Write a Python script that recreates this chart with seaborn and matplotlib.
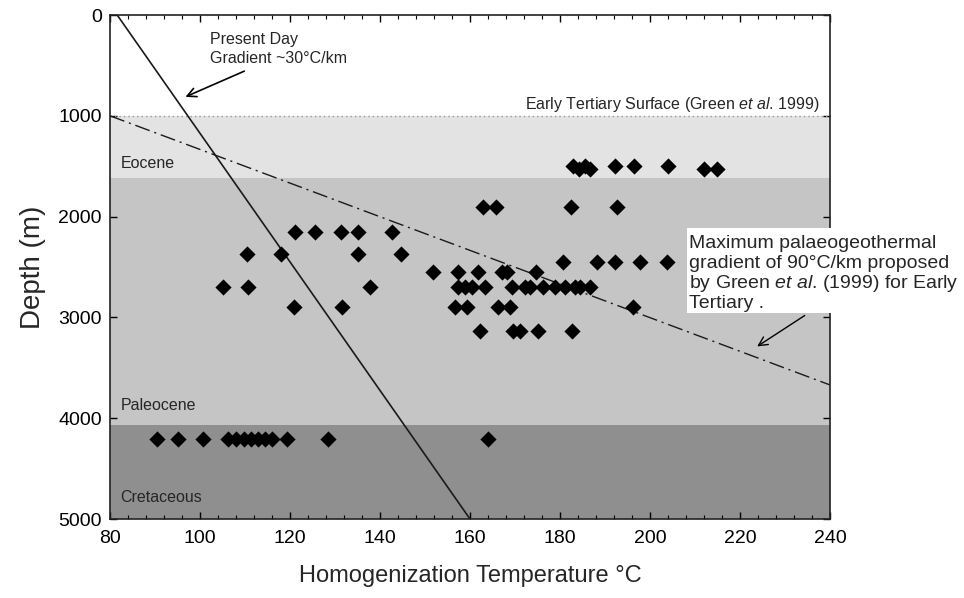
import matplotlib
matplotlib.use("Agg")
import matplotlib.pyplot as plt
from matplotlib.patches import Rectangle
from matplotlib.ticker import MultipleLocator
import seaborn as sns
import pandas as pd

# Fluid-inclusion homogenization temperatures (deg C) grouped by sample depth (m)
depth_1500 = [182.9, 185.5, 192.2, 196.4, 204.0]
depth_1530 = [184.2, 186.6, 212.0, 214.9]
depth_1900 = [162.9, 165.8, 182.4, 192.7]
depth_2150 = [121.1, 125.6, 131.3, 135.1, 142.7]
depth_2370 = [110.4, 118.0, 135.1, 144.7]
depth_2450 = [180.7, 188.2, 192.2, 197.8, 203.8]
depth_2550 = [151.8, 157.3, 161.8, 167.1, 168.2, 174.7]
depth_2700 = [105.1, 110.7, 137.8, 157.3, 158.9, 160.4, 163.3, 169.3, 172.2,
              173.3, 176.2, 178.9, 181.1, 183.3, 184.4, 186.7]
depth_2900 = [120.9, 131.6, 156.7, 159.3, 166.2, 168.9, 196.2]
depth_3130 = [162.2, 169.6, 171.1, 175.1, 182.7]
depth_4210 = [90.4, 95.1, 100.7, 106.2, 108.0, 109.8, 111.3, 112.9, 114.4,
              116.0, 119.3, 128.4, 164.0]

samples = {
    1500: depth_1500, 1530: depth_1530, 1900: depth_1900, 2150: depth_2150,
    2370: depth_2370, 2450: depth_2450, 2550: depth_2550, 2700: depth_2700,
    2900: depth_2900, 3130: depth_3130, 4210: depth_4210,
}

# Stratigraphic intervals (top, base, label)
strata_names = ["Eocene", "Paleocene", "Cretaceous"]
strata_tops = [1000, 1620, 4065]
strata_bases = [1620, 4065, 5000]
strata_colors = ["#e3e3e3", "#c5c5c5", "#8f8f8f"]
strata_label_depths = [1470, 3870, 4790]

# Geothermal gradient lines (temperature, depth)
present_day_T = [81.6, 160.0]
present_day_D = [0, 5000]
palaeo_T = [80.0, 240.0]
palaeo_D = [1000, 3670]
surface_depth = 1000

x_ticks = [80, 100, 120, 140, 160, 180, 200, 220, 240]
y_ticks = [0, 1000, 2000, 3000, 4000, 5000]

palaeo_note = [
    "Maximum palaeogeothermal",
    "gradient of 90°C/km proposed",
    r"by Green $\it{et\ al}$. (1999) for Early",
    "Tertiary .",
]

rows = [(t, d) for d, temps in samples.items() for t in temps]
df = pd.DataFrame(rows, columns=["temperature", "depth"])

sns.set_style("ticks")
plt.rcParams["font.family"] = ["Liberation Sans", "DejaVu Sans"]
plt.rcParams["mathtext.fontset"] = "custom"
plt.rcParams["mathtext.rm"] = "Liberation Sans"
plt.rcParams["mathtext.it"] = "Liberation Sans:italic"

fig = plt.figure(figsize=(9.64, 5.98), dpi=100)
ax = fig.add_axes([0.1141, 0.1321, 0.7469, 0.8428])

for top, base, col in zip(strata_tops, strata_bases, strata_colors):
    ax.axhspan(top, base, color=col, lw=0, zorder=0)
for name, d in zip(strata_names, strata_label_depths):
    ax.text(82.3, d, name, fontsize=11.5, va="center", ha="left", zorder=3)

ax.plot([80, 240], [surface_depth, surface_depth], color="#9a9a9a",
        lw=1.0, ls=(0, (1, 2.2)), zorder=1)
ax.plot(present_day_T, present_day_D, color="#1a1a1a", lw=1.2, zorder=2)
ax.plot(palaeo_T, palaeo_D, color="#1a1a1a", lw=1.0,
        ls=(0, (11, 3.5, 1.5, 3.5)), zorder=2)

sns.scatterplot(data=df, x="temperature", y="depth", marker="D", s=68,
                color="black", edgecolor="black", linewidth=0, ax=ax, zorder=4)

ax.set_xlim(80, 240)
ax.set_ylim(5000, 0)
ax.set_xticks(x_ticks)
ax.set_yticks(y_ticks)
ax.xaxis.set_minor_locator(MultipleLocator(4))
ax.tick_params(which="both", direction="in", top=True, right=True,
               colors="black", labelsize=14)
ax.tick_params(which="major", length=5, width=1)
ax.tick_params(which="minor", length=3, width=0.8)
ax.tick_params(axis="x", pad=8)
ax.tick_params(axis="y", pad=6)
for sp in ax.spines.values():
    sp.set_linewidth(1.2)
    sp.set_color("#222222")

ax.set_xlabel("Homogenization Temperature °C", fontsize=17, labelpad=13)
ax.set_ylabel("Depth (m)", fontsize=20, labelpad=9)

ax.text(102.2, 335, "Present Day\nGradient ~30°C/km", fontsize=11.5,
        va="center", ha="left", linespacing=1.3, zorder=5)
ax.annotate("", xy=(96.2, 823), xytext=(110.4, 546),
            arrowprops=dict(arrowstyle="->", lw=1.2, color="black",
                            mutation_scale=16), zorder=5)

ax.text(237.6, 890, r"Early Tertiary Surface (Green $\it{et\ al}$. 1999)",
        fontsize=11.5, ha="right", va="center", zorder=5)

# white panel behind the palaeogradient note, running past the right spine
ax.add_patch(Rectangle((208.3, 2113), 61.5, 845, facecolor="white",
                       edgecolor="none", zorder=5, clip_on=False))
for line, d in zip(palaeo_note, [2262, 2462, 2668, 2858]):
    ax.text(208.7, d, line, fontsize=14, ha="left", va="center",
            zorder=6, clip_on=False)
ax.annotate("", xy=(223.3, 3303), xytext=(234.9, 2966),
            arrowprops=dict(arrowstyle="->", lw=1.0, color="black",
                            mutation_scale=16), zorder=6)

fig.savefig("out.png", dpi=100)
